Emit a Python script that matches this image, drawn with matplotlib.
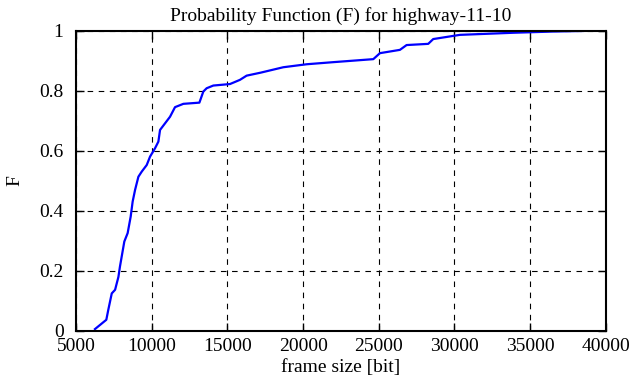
import matplotlib
matplotlib.use("Agg")
import matplotlib.pyplot as plt

# frame size [bit] vs cumulative probability
frame_size = [6250, 7000, 7130, 7360, 7580, 7800, 7900, 8190, 8410, 8610, 8740,
              8900, 9120, 9340, 9670, 9890, 10220, 10440, 10550, 10880, 11210,
              11540, 12090, 13150, 13410, 13630, 14070, 15170, 15830, 16270,
              17200, 18690, 20240, 22000, 24640, 25080, 26400, 26840, 28270,
              28600, 30360, 33890, 36500, 38500]
prob = [0.006, 0.037, 0.07, 0.125, 0.137, 0.18, 0.214, 0.298, 0.326, 0.381, 0.431,
        0.47, 0.514, 0.531, 0.553, 0.581, 0.609, 0.631, 0.67, 0.692, 0.714,
        0.746, 0.757, 0.761, 0.798, 0.809, 0.818, 0.823, 0.837, 0.851,
        0.861, 0.879, 0.889, 0.896, 0.906, 0.926, 0.937, 0.953, 0.957,
        0.973, 0.987, 0.994, 0.998, 1.0]

xticks = [5000, 10000, 15000, 20000, 25000, 30000, 35000, 40000]
yticks = [0, 0.2, 0.4, 0.6, 0.8, 1]
ytick_labels = ["0", "0.2", "0.4", "0.6", "0.8", "1"]

plt.rcParams["font.family"] = "Liberation Serif"
plt.rcParams["font.size"] = 14

fig = plt.figure(figsize=(6.39, 3.87), dpi=100)
ax = fig.add_axes([0.119, 0.145, 0.829, 0.775])
ax.plot(frame_size, prob, color="#0000ff", lw=1.6)

ax.set_xlim(5000, 40000)
ax.set_ylim(0, 1)
ax.set_xticks(xticks)
ax.set_yticks(yticks)
ax.set_yticklabels(ytick_labels)
ax.grid(True, color="black", linestyle=(0, (5, 5)), lw=0.8)
ax.tick_params(direction="in", top=True, right=True, length=6, width=1)
ax.tick_params(axis="x", pad=5)
ax.tick_params(axis="y", pad=9)
for s in ax.spines.values():
    s.set_linewidth(1.5)

ax.set_xlabel("frame size [bit]", fontsize=14, labelpad=3)
ax.set_ylabel("F", labelpad=11)
ax.set_title("Probability Function (F) for highway-11-10", fontsize=14, pad=7)

fig.savefig("out.png", dpi=100)
